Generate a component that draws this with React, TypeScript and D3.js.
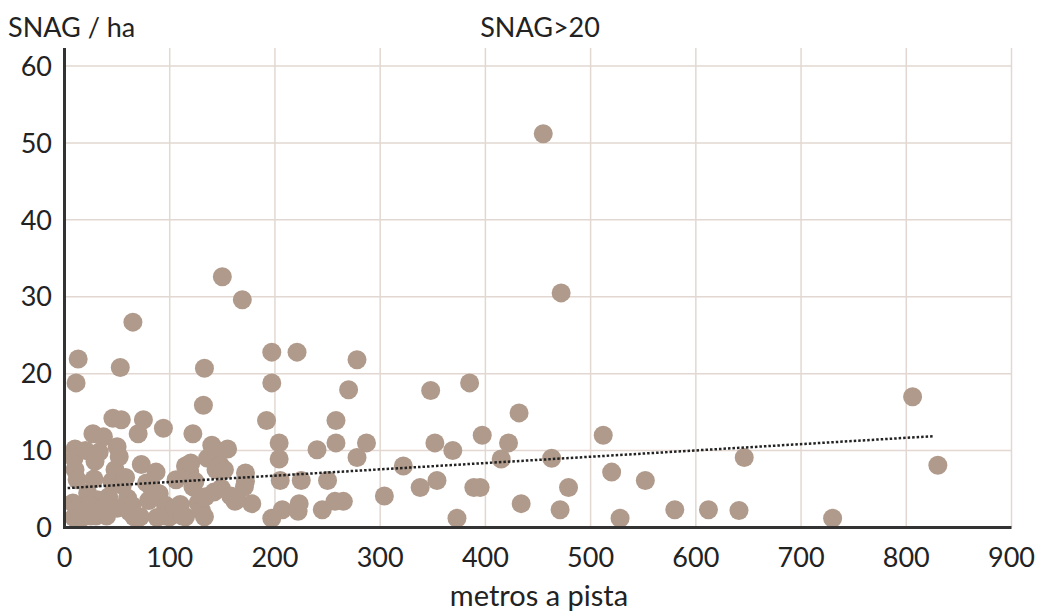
import React from "react";
import { scaleLinear, range } from "d3";

// distance to track (m) and snags per hectare
const distance = [
  455, 472, 150, 169, 65, 13, 11, 53, 133, 197, 221, 197, 278, 270, 132, 192,
  258, 258, 287, 240, 278, 204, 204, 205, 225, 250, 172, 172, 304, 178, 162, 197,
  207, 223, 222, 245, 257, 265, 322, 338, 354, 348, 385, 352, 369, 373, 389, 395,
  397, 415, 422, 432, 434, 463, 471, 479, 512, 520, 528, 552, 580, 612, 641, 646,
  730, 806, 830,
  10, 9, 10, 12, 8, 10, 13, 17, 20, 22, 27, 28, 29, 31, 33, 30, 24, 37, 40, 42,
  45, 46, 48, 50, 52, 54, 55, 57, 60, 58, 64, 66, 70, 72, 73, 75, 78, 83, 87, 90,
  94, 96, 96, 100, 106, 110, 115, 115, 119, 120, 122, 122, 124, 127, 130, 133, 134,
  136, 140, 142, 144, 145, 148, 149, 152, 155, 158, 164, 171, 100, 105, 80, 35, 50,
  9, 15, 25, 62, 88, 112,
];
const snag = [
  51.2, 30.5, 32.6, 29.6, 26.7, 21.9, 18.8, 20.8, 20.7, 22.8, 22.8, 18.8, 21.8, 17.9, 15.9, 13.9,
  13.9, 11.0, 11.0, 10.1, 9.1, 11.0, 8.9, 6.1, 6.1, 6.1, 7.1, 6.0, 4.1, 3.1, 3.4, 1.2,
  2.3, 3.1, 2.1, 2.3, 3.4, 3.4, 8.0, 5.2, 6.1, 17.8, 18.8, 11.0, 10.0, 1.2, 5.2, 5.2,
  12.0, 8.9, 11.0, 14.9, 3.1, 9.0, 2.3, 5.2, 12.0, 7.2, 1.2, 6.1, 2.3, 2.3, 2.2, 9.1,
  1.2, 17.0, 8.1,
  10.2, 9.0, 7.5, 6.2, 3.2, 1.4, 2.5, 1.3, 10.0, 4.5, 12.2, 6.3, 8.6, 3.6, 9.8, 1.5, 2.9, 11.8, 1.5, 4.0,
  6.0, 14.2, 7.5, 10.5, 9.2, 14.0, 5.5, 2.7, 3.8, 6.5, 2.9, 1.4, 12.2, 1.4, 8.2, 14.0, 5.8, 5.1, 7.2, 4.4,
  12.9, 2.9, 1.5, 2.2, 6.2, 3.0, 8.0, 1.4, 7.2, 8.4, 12.2, 5.3, 6.0, 3.2, 2.2, 1.4, 4.0,
  9.0, 10.7, 4.6, 7.5, 9.8, 8.1, 5.1, 7.5, 10.2, 4.1, 3.6, 5.3, 1.4, 2.5, 3.5, 2.2, 2.5,
  1.3, 1.4, 1.5, 2.0, 1.3, 1.5,
];
const xTicks = [0, 100, 200, 300, 400, 500, 600, 700, 800, 900];
const yTicks = [0, 10, 20, 30, 40, 50, 60];

// linear trend as drawn on the original chart
const trendFrom = 3;
const trendTo = 826;
const trendIntercept = 5.1;
const trendSlope = 0.0082;

const W = 1037;
const H = 612;
const font = "Lato, 'Open Sans', sans-serif";

export default function App() {
  const x = scaleLinear().domain([0, 900]).range([64.5, 1011.5]);
  const y = scaleLinear().domain([0, 60]).range([527.5, 66]);
  const top = 48;
  const trend = (v: number) => trendIntercept + trendSlope * v;

  return (
    <svg width={W} height={H} style={{ position: "absolute", left: 0, top: 0 }} fontFamily={font}>
      {/* grid */}
      {yTicks.slice(1).map((t) => (
        <line key={"gy" + t} x1={x(0)} x2={x(900)} y1={y(t)} y2={y(t)} stroke="#e2d8d1" strokeWidth={1.5} />
      ))}
      {xTicks.slice(1).map((t) => (
        <line key={"gx" + t} x1={x(t)} x2={x(t)} y1={top} y2={y(0)} stroke="#e2d8d1" strokeWidth={1.5} />
      ))}

      {/* points */}
      {range(distance.length).map((i) => (
        <circle key={i} cx={x(distance[i])} cy={y(snag[i])} r={9.5} fill="#b09a8b" />
      ))}

      {/* trend */}
      <line
        x1={x(trendFrom)} y1={y(trend(trendFrom))} x2={x(trendTo)} y2={y(trend(trendTo))}
        stroke="#222" strokeWidth={2.5} strokeDasharray="2.5 2"
      />

      {/* axes */}
      <line x1={x(0)} x2={x(0)} y1={top} y2={y(0) + 1.5} stroke="#333" strokeWidth={3} />
      <line x1={x(0) - 1.5} x2={x(900)} y1={y(0)} y2={y(0)} stroke="#333" strokeWidth={3} />

      {yTicks.map((t) => (
        <text key={"ty" + t} x={52} y={y(t)} dy="0.36em" textAnchor="end" fontSize={27} fill="#222">{t}</text>
      ))}
      {xTicks.map((t) => (
        <text key={"tx" + t} x={x(t)} y={567} textAnchor="middle" fontSize={27} fill="#222">{t}</text>
      ))}

      <text x={8} y={37} fontSize={27} fill="#222">SNAG / ha</text>
      <text x={540} y={37} textAnchor="middle" fontSize={27} fill="#222">SNAG&gt;20</text>
      <text x={539} y={606} textAnchor="middle" fontSize={29} fill="#222">metros a pista</text>
    </svg>
  );
}
